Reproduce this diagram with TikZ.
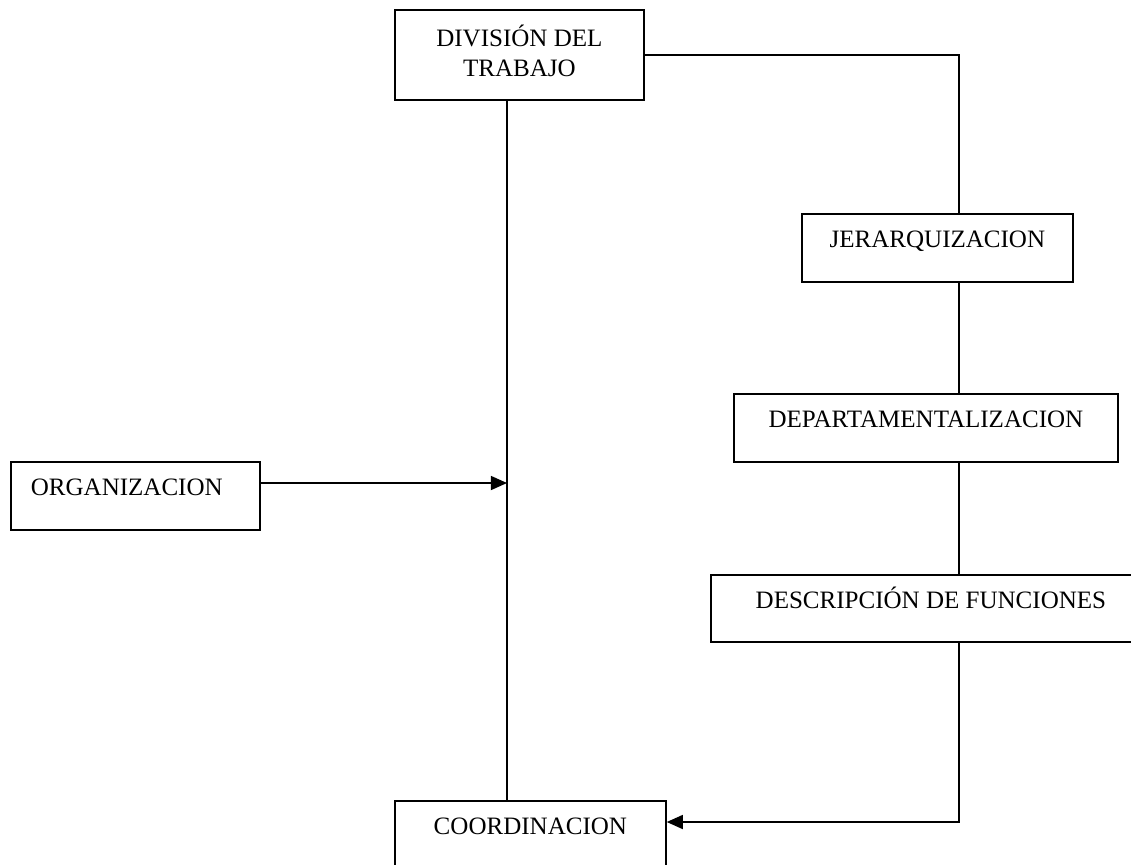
\documentclass[tikz,border=0pt]{standalone}
\usepackage{fontspec}
\setmainfont{Liberation Serif}
\usetikzlibrary{arrows.meta, calc}
\tikzset{
  caja/.style    = {rectangle, draw=black, line width=1.2pt, inner sep=0pt,
                    align=center, anchor=north west,
                    font=\fontsize{17.8}{21.3}\selectfont},
  caja1/.style   = {caja, text height=23.7pt, text depth=#1},
  caja1/.default = 24.7pt,
  linea/.style   = {line width=1.2pt, black},
  flecha/.style  = {linea, -{Triangle[length=11.5pt, width=10pt]}},
}

\begin{document}
\begin{tikzpicture}[x=0.025cm, y=-0.025cm]

  \clip (0,0) rectangle (1131,864);

  \node[caja, minimum width=6.225cm, minimum height=2.25cm, text depth=6pt] (div) at (394,9) {DIVISIÓN DEL\\TRABAJO};
  \node[caja1, minimum width=6.775cm] (jer) at (801,213) {JERARQUIZACION};
  \node[caja1, minimum width=9.6cm] (dep) at (733,393) {DEPARTAMENTALIZACION};
  \node[caja1=24pt, minimum width=11cm] (des) at (710,574) {DESCRIPCIÓN DE FUNCIONES};
  \node[caja1, inner xsep=0.5cm, text width=5.225cm, align=left] (org) at (10,461) {ORGANIZACION};
  \node[caja1=33pt, minimum width=6.775cm] (coo) at (394,800) {COORDINACION};

  \coordinate (spine) at (507,0);
  \coordinate (rail)  at (959,0);

  \draw[linea] (spine |- div.south) -- (spine |- coo.north);
  \draw[linea] (div.east) -| (rail |- jer.north);
  \draw[linea] (rail |- jer.south) -- (rail |- dep.north);
  \draw[linea] (rail |- dep.south) -- (rail |- des.north);
  \draw[flecha] (rail |- des.south) |- ($(coo.north east)+(0,22)$);
  \draw[flecha] ($(org.north east)+(0,22)$) -- ($(spine |- org.north)+(0,22)$);

\end{tikzpicture}
\end{document}
